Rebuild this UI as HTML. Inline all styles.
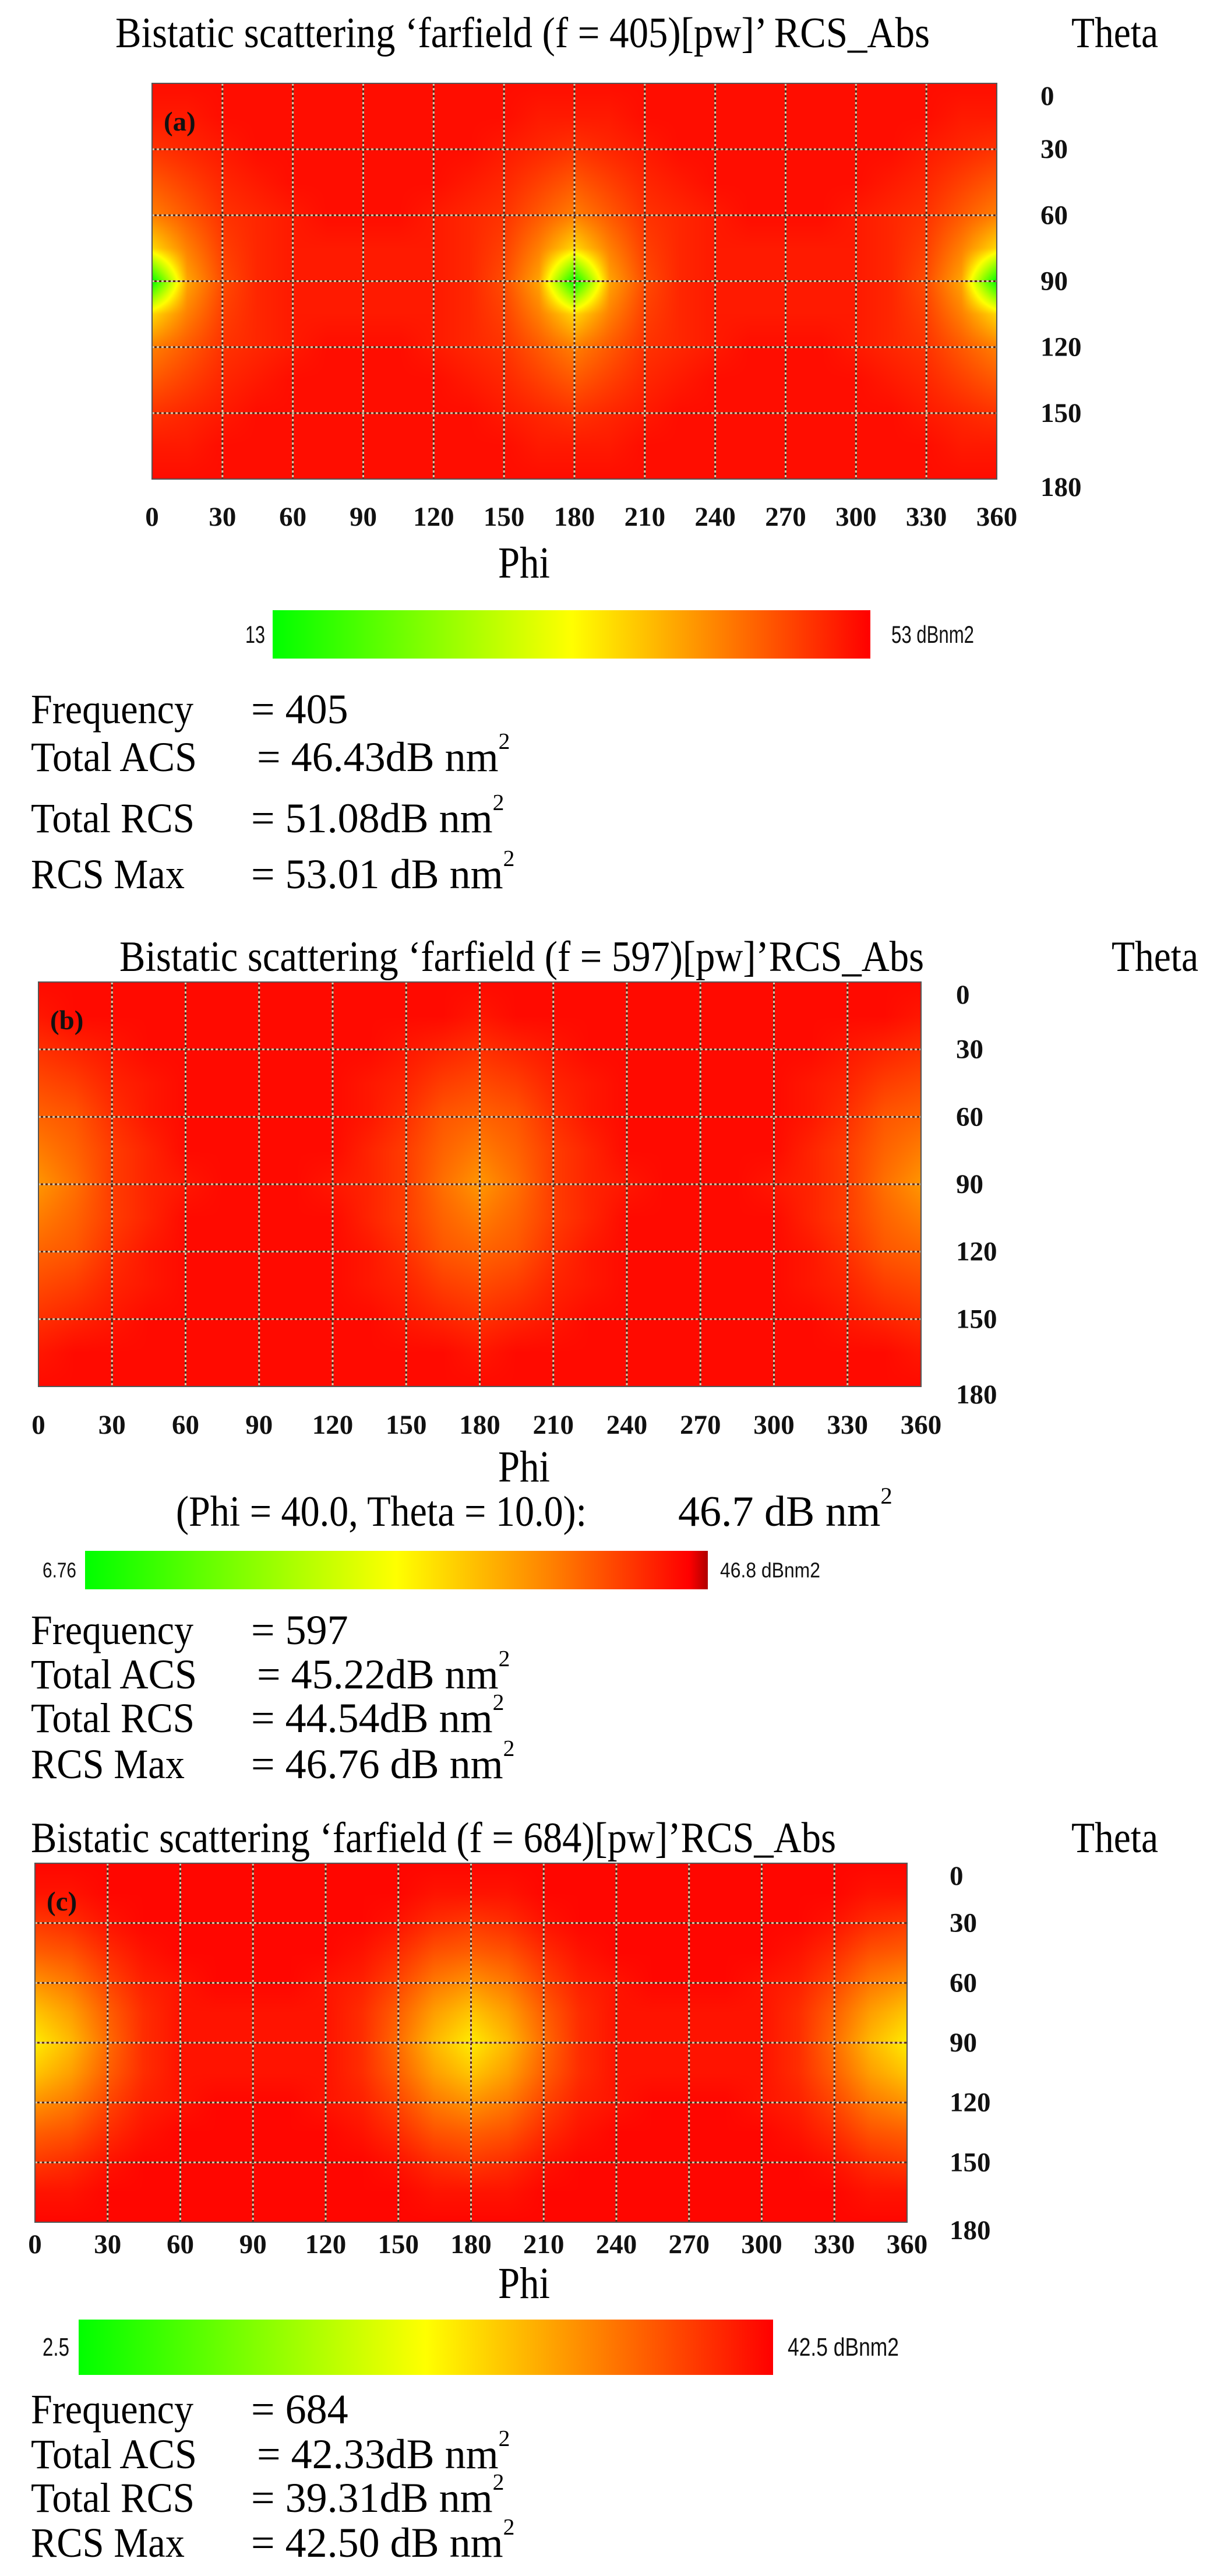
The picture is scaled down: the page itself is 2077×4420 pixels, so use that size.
<!DOCTYPE html>
<html><head><meta charset="utf-8">
<style>
html,body{margin:0;padding:0;background:#fff;}
body{width:2077px;height:4420px;position:relative;overflow:hidden;}
canvas{position:absolute;}
svg{position:absolute;left:0;top:0;}
.t{font-family:"Liberation Serif",serif;fill:#000;}
.tk{font-family:"Liberation Serif",serif;font-weight:bold;font-size:47px;fill:#111;}
.cb{font-family:"Liberation Sans",sans-serif;fill:#111;}
</style></head>
<body>
<canvas id="cv-a"></canvas>
<canvas id="cv-b"></canvas>
<canvas id="cv-c"></canvas>
<svg id="ov" width="2077" height="4420"></svg>
<script>
// ---- data: theta rows (0..180 step 15) x phi cols (0..360 step 15), in dB ----
const phiTicks = [0,30,60,90,120,150,180,210,240,270,300,330,360];
const thetaTicks = [0,30,60,90,120,150,180];
const gridPhi = [0,15,30,45,60,75,90,105,120,135,150,165,180,195,210,225,240,255,270,285,300,315,330,345,360];
const gridTheta = [0,15,30,45,60,75,90,105,120,135,150,165,180];

const rangeA = [13, 53];
const dataA = [
[52,52,52,52,52,52,52,52,52,52,52,52,52,52,52,52,52,52,52,52,52,52,52,52,52],
[51,51,52,52,52,52,52,52,52,52,52,51,51,51,52,52,52,52,52,52,52,52,52,51,51],
[49,50,51,52,52,52,52,52,52,52,51,50,49,50,51,52,52,52,52,52,52,52,51,50,49],
[46,48,50,51,52,52,52,52,52,51,50,48,46,48,50,51,52,52,52,52,52,51,50,48,46],
[43,46,49,50,51,52,52,52,51,50,49,46,43,46,49,50,51,52,52,52,51,50,49,46,43],
[36,43,48,50,51,51,51,51,51,50,48,43,36,43,48,50,51,51,51,51,51,50,48,43,36],
[13,40,47,50,51,51,51,51,51,50,47,40,13,40,47,50,51,51,51,51,51,50,47,40,13],
[36,43,48,50,51,51,51,51,51,50,48,43,36,43,48,50,51,51,51,51,51,50,48,43,36],
[43,46,49,50,51,52,52,52,51,50,49,46,43,46,49,50,51,52,52,52,51,50,49,46,43],
[46,48,50,51,52,52,52,52,52,51,50,48,46,48,50,51,52,52,52,52,52,51,50,48,46],
[49,50,51,52,52,52,52,52,52,52,51,50,49,50,51,52,52,52,52,52,52,52,51,50,49],
[51,51,52,52,52,52,52,52,52,52,52,51,51,51,52,52,52,52,52,52,52,52,52,51,51],
[52,52,52,52,52,52,52,52,52,52,52,52,52,52,52,52,52,52,52,52,52,52,52,52,52]];

const rangeB = [6.76, 46.8];
const dataB = [
[46,46,46,46,46,46,46,46,46,46,46,46,46,46,46,46,46,46,46,46,46,46,46,46,46],
[45,46,46,46,46,46,46,46,46,46,46,46,45,46,46,46,46,46,46,46,46,46,46,46,45],
[43,44,45,46,46,46,46,46,46,46,45,44,43,44,45,46,46,46,46,46,46,46,45,44,43],
[41,42,44,45,46,46,46,46,46,45,44,42,41,42,44,45,46,46,46,46,46,45,44,42,41],
[39,40,43,45,46,46,46,46,46,45,43,40,39,40,43,45,46,46,46,46,46,45,43,40,39],
[37,39,42,44,46,46,46,46,46,44,42,39,37,39,42,44,46,46,46,46,46,44,42,39,37],
[35,38,42,44,45,46,46,46,45,44,42,38,35,38,42,44,45,46,46,46,45,44,42,38,35],
[37,39,42,44,46,46,46,46,46,44,42,39,37,39,42,44,46,46,46,46,46,44,42,39,37],
[39,40,43,45,46,46,46,46,46,45,43,40,39,40,43,45,46,46,46,46,46,45,43,40,39],
[41,42,44,45,46,46,46,46,46,45,44,42,41,42,44,45,46,46,46,46,46,45,44,42,41],
[43,44,45,46,46,46,46,46,46,46,45,44,43,44,45,46,46,46,46,46,46,46,45,44,43],
[45,46,46,46,46,46,46,46,46,46,46,46,45,46,46,46,46,46,46,46,46,46,46,46,45],
[46,46,46,46,46,46,46,46,46,46,46,46,46,46,46,46,46,46,46,46,46,46,46,46,46]];

const rangeC = [2.5, 42.5];
const dataC = [
[42,42,42,42,42,42,42,42,42,42,42,42,42,42,42,42,42,42,42,42,42,42,42,42,42],
[41,41,42,42,42,42,42,42,42,42,42,41,41,41,42,42,42,42,42,42,42,42,42,41,41],
[38,39,41,42,42,42,42,42,42,42,41,39,38,39,41,42,42,42,42,42,42,42,41,39,38],
[35,36,39,41,42,42,42,42,42,41,39,36,35,36,39,41,42,42,42,42,42,41,39,36,35],
[31,33,37,40,41,42,42,42,41,40,37,33,31,33,37,40,41,42,42,42,41,40,37,33,31],
[27,30,35,39,41,41,41,41,41,39,35,30,27,30,35,39,41,41,41,41,41,39,35,30,27],
[24,28,34,39,41,41,41,41,41,39,34,28,24,28,34,39,41,41,41,41,41,39,34,28,24],
[27,30,35,39,41,41,41,41,41,39,35,30,27,30,35,39,41,41,41,41,41,39,35,30,27],
[31,33,37,40,41,42,42,42,41,40,37,33,31,33,37,40,41,42,42,42,41,40,37,33,31],
[35,36,39,41,42,42,42,42,42,41,39,36,35,36,39,41,42,42,42,42,42,41,39,36,35],
[38,39,41,42,42,42,42,42,42,42,41,39,38,39,41,42,42,42,42,42,42,42,41,39,38],
[41,41,42,42,42,42,42,42,42,42,42,41,41,41,42,42,42,42,42,42,42,42,42,41,41],
[42,42,42,42,42,42,42,42,42,42,42,42,42,42,42,42,42,42,42,42,42,42,42,42,42]];

const NS = "http://www.w3.org/2000/svg";
const ov = document.getElementById('ov');

function cmap(t){
  t = Math.max(0, Math.min(1, t));
  let r, g;
  if (t < 0.5) { r = 510 * t; g = 255; } else { r = 255; g = 255 * (1 - t) * 2; }
  return [Math.round(r), Math.round(g), 0];
}
function mk(tag, attrs, text){
  const e = document.createElementNS(NS, tag);
  for (const k in attrs) e.setAttribute(k, attrs[k]);
  if (text !== undefined) e.textContent = text;
  ov.appendChild(e);
  return e;
}
function txt(x, y, s, cls, size, opts){
  opts = opts || {};
  const e = mk('text', Object.assign({x:x, y:y, class:cls, 'font-size':size, 'dominant-baseline':'central'}, opts.attrs || {}));
  if (opts.len) { e.setAttribute('textLength', opts.len); e.setAttribute('lengthAdjust', 'spacingAndGlyphs'); }
  if (opts.sup) {
    const a = document.createElementNS(NS, 'tspan'); a.textContent = s; e.appendChild(a);
    const b = document.createElementNS(NS, 'tspan'); b.textContent = '2';
    b.setAttribute('font-size', size * 0.55); b.setAttribute('dy', -size * 0.38); e.appendChild(b);
  } else e.textContent = s;
  
  
  return e;
}

function drawChart(cfg){
  const L = cfg.left, R = cfg.right, T = cfg.top, B = cfg.bottom;
  const W = R - L, H = B - T;
  const xS = p => L + p / 360 * W;
  const yS = th => T + th / 180 * H;
  const cv = document.getElementById(cfg.canvas);
  cv.width = W; cv.height = H; cv.style.left = L + 'px'; cv.style.top = T + 'px';
  const ctx = cv.getContext('2d');
  const img = ctx.createImageData(W, H);
  const d = cfg.data, lo = cfg.range[0], hi = cfg.range[1];
  const nr = gridTheta.length - 1, nc = gridPhi.length - 1;
  for (let py = 0; py < H; py++) {
    const fy = (py + 0.5) / H * nr; const iy = Math.min(nr - 1, Math.floor(fy)); const ty = fy - iy;
    for (let px = 0; px < W; px++) {
      const fx = (px + 0.5) / W * nc; const ix = Math.min(nc - 1, Math.floor(fx)); const tx = fx - ix;
      const v = (d[iy][ix] * (1 - tx) + d[iy][ix + 1] * tx) * (1 - ty) + (d[iy + 1][ix] * (1 - tx) + d[iy + 1][ix + 1] * tx) * ty;
      const c = cmap((v - lo) / (hi - lo));
      const o = (py * W + px) * 4;
      img.data[o] = c[0]; img.data[o + 1] = c[1]; img.data[o + 2] = c[2]; img.data[o + 3] = 255;
    }
  }
  ctx.putImageData(img, 0, 0);
  phiTicks.forEach(p => {
    if (p === 0 || p === 360) return;
    const x = xS(p);
    const g1 = mk('line', {x1:x, y1:T, x2:x, y2:B, stroke:'#d9c7a8', 'stroke-width':3, 'stroke-dasharray':'4 4'});
    
    
    const g2 = mk('line', {x1:x, y1:T + 4, x2:x, y2:B, stroke:'#5a2a18', 'stroke-width':3, 'stroke-dasharray':'4 4'});
    
    
  });
  thetaTicks.forEach(th => {
    if (th === 0 || th === 180) return;
    const y = yS(th);
    const g1 = mk('line', {x1:L, y1:y, x2:R, y2:y, stroke:'#d9c7a8', 'stroke-width':3, 'stroke-dasharray':'4 4'});
    
    
    const g2 = mk('line', {x1:L + 4, y1:y, x2:R, y2:y, stroke:'#5a2a18', 'stroke-width':3, 'stroke-dasharray':'4 4'});
    
    
  });
  const fr = mk('rect', {x:L, y:T, width:W, height:H, fill:'none', stroke:'#555', 'stroke-width':2});
  
  
  phiTicks.forEach(p => txt(xS(p), cfg.phiTickY, String(p), 'tk', 47, {attrs:{'text-anchor':'middle'}, name:'phi-tick-label'}));
  thetaTicks.forEach(th => txt(cfg.thetaTickX, yS(th) + (th === 0 ? 22 : th === 180 ? 14 : 0), String(th), 'tk', 47, {name:'theta-tick-label'}));
  txt(L + 20, T + 66, cfg.panel, 'tk', 52, {attrs:{fill:'#2a0a00'}, name:'panel-label'});
}

drawChart({canvas:'cv-a', left:261, right:1711, top:143, bottom:822, data:dataA, range:rangeA, phiTickY:887, thetaTickX:1786, panel:'(a)'});
drawChart({canvas:'cv-b', left:66, right:1581, top:1685, bottom:2379, data:dataB, range:rangeB, phiTickY:2445, thetaTickX:1641, panel:'(b)'});
drawChart({canvas:'cv-c', left:60, right:1557, top:3197, bottom:3813, data:dataC, range:rangeC, phiTickY:3851, thetaTickX:1630, panel:'(c)'});

txt(198, 57, "Bistatic scattering \u2018farfield (f = 405)[pw]\u2019 RCS_Abs", 't', 74, {len:1398, name:'chart-title-a'});
txt(1839, 57, "Theta", 't', 74, {len:149, name:'theta-axis-title-a'});
txt(205, 1642, "Bistatic scattering \u2018farfield (f = 597)[pw]\u2019RCS_Abs", 't', 74, {len:1381, name:'chart-title-b'});
txt(1908, 1642, "Theta", 't', 74, {len:149, name:'theta-axis-title-b'});
txt(53, 3154, "Bistatic scattering \u2018farfield (f = 684)[pw]\u2019RCS_Abs", 't', 74, {len:1382, name:'chart-title-c'});
txt(1839, 3154, "Theta", 't', 74, {len:149, name:'theta-axis-title-c'});
txt(855, 966, "Phi", 't', 76, {len:89, name:'phi-axis-title-a'});
txt(855, 2517, "Phi", 't', 76, {len:89, name:'phi-axis-title-b'});
txt(855, 3918, "Phi", 't', 76, {len:89, name:'phi-axis-title-c'});
txt(302, 2594, "(Phi = 40.0, Theta = 10.0):", 't', 74, {len:705, name:'cursor-readout'});
txt(1164, 2594, "46.7 dB nm", 't', 74, {sup:true, name:'cursor-value'});

function colorbar(x, y, w, h, lowLbl, lowX, lowW, hiLbl, hiX, hiW, fs, darkEnd, name){
  let defs = ov.querySelector('defs') || mk('defs', {});
  const id = 'grad-' + name;
  const lg = document.createElementNS(NS, 'linearGradient');
  lg.setAttribute('id', id);
  const stops = darkEnd ? [[0,'#00ff00'],[0.25,'#80ff00'],[0.5,'#ffff00'],[0.75,'#ff8000'],[0.97,'#ff0000'],[1,'#b00000']]
                        : [[0,'#00ff00'],[0.25,'#80ff00'],[0.5,'#ffff00'],[0.75,'#ff8000'],[1,'#ff0000']];
  stops.forEach(s => { const st = document.createElementNS(NS, 'stop'); st.setAttribute('offset', s[0]); st.setAttribute('stop-color', s[1]); lg.appendChild(st); });
  defs.appendChild(lg);
  const r = mk('rect', {x:x, y:y, width:w, height:h, fill:'url(#' + id + ')'});
  
  
  txt(lowX, y + h / 2, lowLbl, 'cb', fs, {len:lowW, name:'colorbar-min-label'});
  txt(hiX, y + h / 2, hiLbl, 'cb', fs, {len:hiW, name:'colorbar-max-label'});
}
colorbar(468, 1047, 1026, 83, "13", 421, 34, "53 dBnm2", 1530, 142, 42, false, 'colorbar-a');
colorbar(146, 2661, 1069, 66, "6.76", 73, 58, "46.8 dBnm2", 1236, 172, 36, true, 'colorbar-b');
colorbar(135, 3980, 1192, 95, "2.5", 73, 46, "42.5 dBnm2", 1352, 191, 44, false, 'colorbar-c');

function stats(ys, vals, tag){
  const labels = ["Frequency", "Total ACS", "Total RCS", "RCS Max"];
  const lw = [279, 285, 281, 264];
  labels.forEach((l, i) => {
    txt(53, ys[i], l, 't', 72, {len:lw[i], name:'stat-label-' + tag});
    txt(i === 1 ? 441 : 431, ys[i], vals[i], 't', 72, {sup:i > 0, name:'stat-value-' + tag});
  });
}
stats([1217, 1299, 1404, 1500], ["= 405", "= 46.43dB nm", "= 51.08dB nm", "= 53.01 dB nm"], 'a');
stats([2797, 2873, 2948, 3027], ["= 597", "= 45.22dB nm", "= 44.54dB nm", "= 46.76 dB nm"], 'b');
stats([4134, 4211, 4286, 4363], ["= 684", "= 42.33dB nm", "= 39.31dB nm", "= 42.50 dB nm"], 'c');
</script>
</body></html>
